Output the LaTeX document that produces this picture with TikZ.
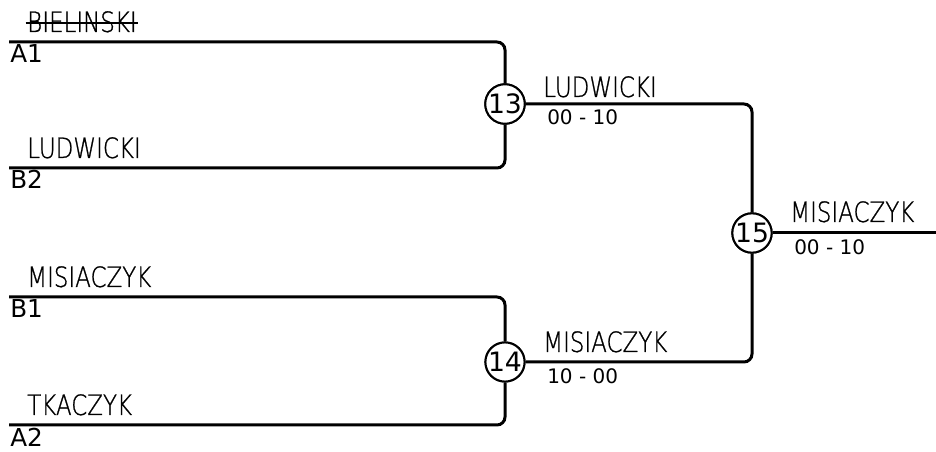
\documentclass[tikz,border=0pt]{standalone}
\usepackage{fontspec}
\setmainfont{DejaVu Sans}
\newfontfamily\namefont[FakeStretch=0.82,FakeBold=0.8]{DejaVu Sans ExtraLight}
\begin{document}
\begin{tikzpicture}[x=0.75pt,y=-0.75pt,
  wire/.style={line width=2.25pt,rounded corners=6pt},
  matchc/.style={circle,draw,fill=white,line width=1.5pt,minimum size=28pt,inner sep=0pt,font=\fontsize{20}{22}\selectfont},
  pname/.style={anchor=base west,inner sep=0pt,font=\namefont\fontsize{21}{24}\selectfont},
  seed/.style={anchor=base west,inner sep=0pt,font=\fontsize{18.5}{20}\selectfont},
  score/.style={anchor=base west,inner sep=0pt,font=\fontsize{15}{17}\selectfont}]
\useasboundingbox (0,0) rectangle (936,452);
% start points
\coordinate (sA1) at (9,42);
\coordinate (sB2) at (9,168);
\coordinate (sB1) at (9,297);
\coordinate (sA2) at (9,425);
\coordinate (fin) at (936,233);
% match circles
\node[matchc] (m13) at (505,104) {13};
\node[matchc] (m14) at (505,362) {14};
\node[matchc] (m15) at (752,233) {15};
% wires
\draw[wire] (sA1) -| (m13);
\draw[wire] (sB2) -| (m13);
\draw[wire] (sB1) -| (m14);
\draw[wire] (sA2) -| (m14);
\draw[wire] (m13) -| (m15);
\draw[wire] (m14) -| (m15);
\draw[wire] (m15) -- (fin);
% redraw circles on top
\node[matchc] at (m13) {13};
\node[matchc] at (m14) {14};
\node[matchc] at (m15) {15};
% names
\node[pname] (n1) at (27,32) {BIELINSKI};
\draw[line width=1.3pt] ([xshift=-1pt,yshift=7pt]n1.base west) -- ([xshift=1pt,yshift=7pt]n1.base east);
\node[seed] (s1) at (10,63) {A1};
\node[pname] (n2) at (27,158) {LUDWICKI};
\node[seed] (s2) at (10,189) {B2};
\node[pname] (n3) at (27,287) {MISIACZYK};
\node[seed] (s3) at (10,318) {B1};
\node[pname] (n4) at (27,415) {TKACZYK};
\node[seed] (s4) at (10,446) {A2};
\node[pname] (w13) at (543,97) {LUDWICKI};
\node[score] (sc13) at (547,125) {00 - 10};
\node[pname] (w14) at (543,352) {MISIACZYK};
\node[score] (sc14) at (547,383) {10 - 00};
\node[pname] (w15) at (790,222) {MISIACZYK};
\node[score] (sc15) at (794,255) {00 - 10};
\end{tikzpicture}
\end{document}
